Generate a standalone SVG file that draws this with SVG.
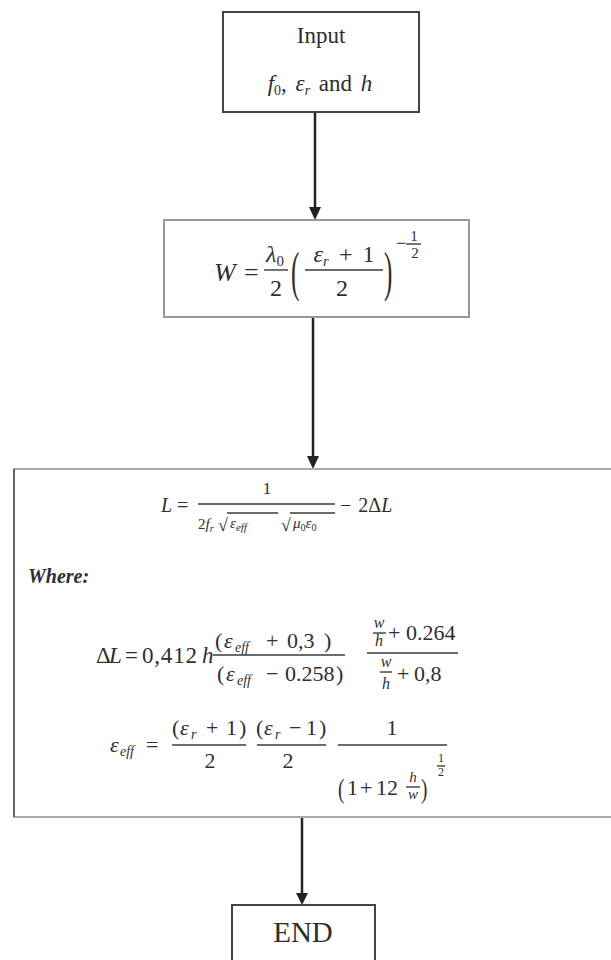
<svg xmlns="http://www.w3.org/2000/svg" width="611" height="960" viewBox="0 0 611 960">
<style>
.t{font-family:"Liberation Serif","Times New Roman",serif;fill:#2e2e2e}
.i{font-style:italic}
.bar{stroke:#3a3a3a;stroke-width:1.4}
.box{fill:#fff}
.conn{stroke:#222;stroke-width:2.5;fill:none}
.head{fill:#222}
</style>
<rect width="611" height="960" fill="#fff"/>

<g id="connectors">
<line class="conn" x1="315" y1="112" x2="315" y2="208"/>
<path class="head" d="M309,207 L321,207 L315,220 Z"/>
<line class="conn" x1="313" y1="317" x2="313" y2="457"/>
<path class="head" d="M307,456 L319,456 L313,469 Z"/>
<line class="conn" x1="302" y1="818" x2="302" y2="894"/>
<path class="head" d="M296,893 L308,893 L302,905 Z"/>
</g>

<g id="input">
<rect class="box" x="223" y="12" width="196" height="100" stroke="#444" stroke-width="2"/>
<text class="t" x="321" y="43" text-anchor="middle" font-size="23">Input</text>
<text class="t" x="320" y="91" text-anchor="middle" font-size="23" word-spacing="3"><tspan class="i">f</tspan><tspan font-size="14" dy="4">0</tspan><tspan dy="-4">, </tspan><tspan class="i">ε</tspan><tspan class="i" font-size="14" dy="4">r</tspan><tspan dy="-4"> and </tspan><tspan class="i">h</tspan></text>
</g>

<g id="width">
<rect class="box" x="164" y="220" width="305" height="97" stroke="#999" stroke-width="2"/>
<text class="t i" x="214" y="281" font-size="26">W</text>
<text class="t" x="244" y="281" font-size="26">=</text>
<text class="t" x="275" y="262" text-anchor="middle" font-size="24"><tspan class="i">λ</tspan><tspan font-size="15" dy="4">0</tspan></text>
<line class="bar" x1="264" y1="270" x2="288" y2="270"/>
<text class="t" x="276" y="296" text-anchor="middle" font-size="24">2</text>
<text class="t" transform="translate(291,290) scale(0.7,1.5)" font-size="36">(</text>
<text class="t" x="344" y="262" text-anchor="middle" font-size="24" word-spacing="4"><tspan class="i">ε</tspan><tspan class="i" font-size="15" dy="4">r</tspan><tspan dy="-4"> + 1</tspan></text>
<line class="bar" x1="305" y1="270" x2="383" y2="270"/>
<text class="t" x="342" y="296" text-anchor="middle" font-size="24">2</text>
<text class="t" transform="translate(384,290) scale(0.7,1.5)" font-size="36">)</text>
<text class="t" x="396" y="249" font-size="18">−</text>
<line class="bar" x1="406" y1="244" x2="421" y2="244"/>
<text class="t" x="414" y="241" text-anchor="middle" font-size="15">1</text>
<text class="t" x="415" y="258" text-anchor="middle" font-size="15">2</text>
</g>

<g id="length">
<rect class="box" x="14" y="469" width="620" height="348" stroke="#aaa" stroke-width="2"/>
<line x1="14" y1="469" x2="14" y2="817" stroke="#666" stroke-width="2"/>

<text class="t i" x="161" y="512" font-size="20">L</text>
<text class="t" x="177" y="512" font-size="20">=</text>
<text class="t" x="267" y="494" text-anchor="middle" font-size="17">1</text>
<line class="bar" x1="198" y1="504" x2="335" y2="504"/>
<text class="t" x="198" y="529" font-size="15" fill="#555">2<tspan class="i">f</tspan><tspan class="i" font-size="10" dy="3">r</tspan></text>
<text class="t" x="218" y="531" font-size="18">√</text>
<line class="bar" x1="227" y1="513" x2="278" y2="513" stroke-width="1"/>
<text class="t i" x="230" y="528" font-size="15">ε<tspan font-size="11" dy="3">eff</tspan></text>
<text class="t" x="281" y="531" font-size="18">√</text>
<line class="bar" x1="290" y1="513" x2="335" y2="513" stroke-width="1"/>
<text class="t i" x="293" y="528" font-size="15">μ<tspan font-size="10" dy="3" font-style="normal">0</tspan><tspan dy="-3">ε</tspan><tspan font-size="10" dy="3" font-style="normal">0</tspan></text>
<text class="t" x="340" y="512" font-size="20" word-spacing="2">− 2Δ<tspan class="i">L</tspan></text>

<text class="t i" x="28" y="583" font-size="20" font-weight="bold" fill="#444">Where:</text>

<text class="t" y="663" font-size="23"><tspan x="96">Δ</tspan><tspan class="i" x="109">L</tspan><tspan x="125">=</tspan><tspan x="142" letter-spacing="0.8">0,412</tspan><tspan class="i" x="202">h</tspan></text>
<text class="t" y="648" font-size="22"><tspan x="215">(</tspan><tspan class="i" x="224">ε</tspan><tspan class="i" x="235" font-size="14" dy="4">eff</tspan><tspan x="266" dy="-4">+</tspan><tspan x="287">0,3</tspan><tspan x="324">)</tspan></text>
<line class="bar" x1="213" y1="655" x2="345" y2="655"/>
<text class="t" y="681" font-size="22"><tspan x="217">(</tspan><tspan class="i" x="226">ε</tspan><tspan class="i" x="237" font-size="14" dy="4">eff</tspan><tspan x="266" dy="-4">−</tspan><tspan x="285">0.258</tspan><tspan x="336">)</tspan></text>

<line class="bar" x1="367" y1="653" x2="458" y2="653"/>
<text class="t i" x="379" y="628" text-anchor="middle" font-size="16">w</text>
<line class="bar" x1="373" y1="633" x2="386" y2="633" stroke-width="1"/>
<text class="t i" x="379" y="646" text-anchor="middle" font-size="16">h</text>
<text class="t" y="640" font-size="22"><tspan x="388">+</tspan><tspan x="406">0.264</tspan></text>
<text class="t i" x="386" y="667" text-anchor="middle" font-size="16">w</text>
<line class="bar" x1="380" y1="672" x2="392" y2="672" stroke-width="1"/>
<text class="t i" x="386" y="689" text-anchor="middle" font-size="16">h</text>
<text class="t" y="681" font-size="22"><tspan x="397">+</tspan><tspan x="414">0,8</tspan></text>

<text class="t" y="752" font-size="22"><tspan class="i" x="110">ε</tspan><tspan class="i" x="120" font-size="14" dy="4">eff</tspan><tspan x="146" dy="-4">=</tspan></text>
<text class="t" y="735" font-size="22"><tspan x="172">(</tspan><tspan class="i" x="180">ε</tspan><tspan class="i" x="191" font-size="14" dy="4">r</tspan><tspan x="206" dy="-4">+</tspan><tspan x="226">1</tspan><tspan x="239">)</tspan></text>
<line class="bar" x1="172" y1="745" x2="246" y2="745"/>
<text class="t" x="210" y="768" text-anchor="middle" font-size="22">2</text>
<text class="t" y="735" font-size="22"><tspan x="256">(</tspan><tspan class="i" x="264">ε</tspan><tspan class="i" x="275" font-size="14" dy="4">r</tspan><tspan x="289" dy="-4">−</tspan><tspan x="306">1</tspan><tspan x="319">)</tspan></text>
<line class="bar" x1="257" y1="745" x2="326" y2="745"/>
<text class="t" x="288" y="768" text-anchor="middle" font-size="22">2</text>
<text class="t" x="392" y="735" text-anchor="middle" font-size="22">1</text>
<line class="bar" x1="338" y1="745" x2="447" y2="745"/>
<text class="t" transform="translate(338,798) scale(0.8,1.15)" font-size="24">(</text>
<text class="t" y="795" font-size="22"><tspan x="347">1</tspan><tspan x="360">+</tspan><tspan x="376">12</tspan></text>
<text class="t i" x="413" y="782" text-anchor="middle" font-size="15">h</text>
<line class="bar" x1="406" y1="787" x2="420" y2="787" stroke-width="1"/>
<text class="t i" x="413" y="799" text-anchor="middle" font-size="15">w</text>
<text class="t" transform="translate(421,798) scale(0.8,1.15)" font-size="24">)</text>
<text class="t" x="441" y="762" text-anchor="middle" font-size="12">1</text>
<line class="bar" x1="437" y1="766" x2="445" y2="766" stroke-width="1"/>
<text class="t" x="441" y="776" text-anchor="middle" font-size="12">2</text>
</g>

<g id="end">
<rect class="box" x="232" y="905" width="143" height="80" stroke="#444" stroke-width="2"/>
<text class="t" x="303" y="942" text-anchor="middle" font-size="29">END</text>
</g>
</svg>
